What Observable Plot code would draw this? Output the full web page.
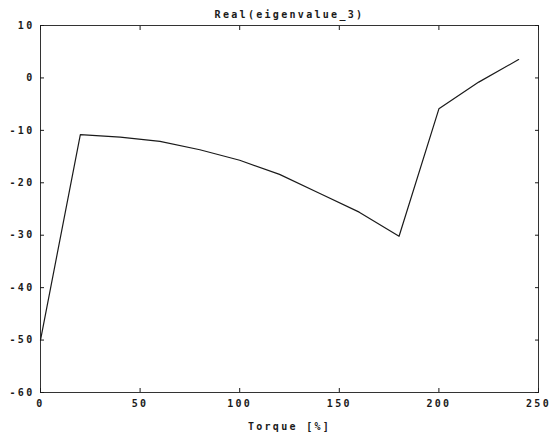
<!DOCTYPE html>
<html>
<head>
<meta charset="utf-8">
<script src="https://cdn.jsdelivr.net/npm/d3@7"></script>
<script src="https://cdn.jsdelivr.net/npm/@observablehq/plot@0.6"></script>
<style>
  html, body { margin: 0; padding: 0; background: #fff; }
</style>
</head>
<body>
<div id="chart"></div>
<script>
// Real part of the third eigenvalue versus torque
const torque = [0, 20, 40, 60, 80, 100, 120, 140, 160, 180, 200, 220, 240];
const realEig3 = [-50, -10.8, -11.3, -12.1, -13.7, -15.7, -18.4, -22.0, -25.6, -30.2, -5.9, -0.8, 3.5];

const xTicks = [0, 50, 100, 150, 200, 250];
const yTicks = [10, 0, -10, -20, -30, -40, -50, -60];
const titleText = "Real(eigenvalue_3)";
const xLabelText = "Torque [%]";

const rows = torque.map((t, i) => ({torque: t, value: realEig3[i]}));
const ink = "#1a1a1a";
const fmt = d => String(d);

const chart = Plot.plot({
  width: 550,
  height: 442,
  marginLeft: 40,
  marginRight: 12,
  marginTop: 25,
  marginBottom: 50,
  x: {domain: [0, 250]},
  y: {domain: [-60, 10]},
  style: {
    fontFamily: "'DejaVu Sans Mono', monospace",
    fontSize: "10px",
    fontWeight: "bold",
    letterSpacing: "2.3px",
    color: ink,
    background: "#fff",
    overflow: "visible"
  },
  marks: [
    Plot.frame({stroke: "#333", strokeWidth: 1}),
    Plot.axisX({ticks: xTicks, tickSize: -4, tickPadding: 11, tickFormat: fmt, label: null}),
    Plot.axisX({anchor: "top", ticks: xTicks, tickSize: -4, tickFormat: () => "", label: null}),
    Plot.axisY({ticks: yTicks, tickSize: -4, tickPadding: 10, tickFormat: fmt, label: null}),
    Plot.axisY({anchor: "right", ticks: yTicks, tickSize: -4, tickFormat: () => "", label: null}),
    Plot.line(rows, {x: "torque", y: "value", stroke: ink, strokeWidth: 1.2}),
    Plot.text([titleText], {text: d => d, frameAnchor: "top", dy: -15}),
    Plot.text([xLabelText], {text: d => d, frameAnchor: "bottom", dy: 37})
  ]
});

document.getElementById("chart").appendChild(chart);
</script>
</body>
</html>
